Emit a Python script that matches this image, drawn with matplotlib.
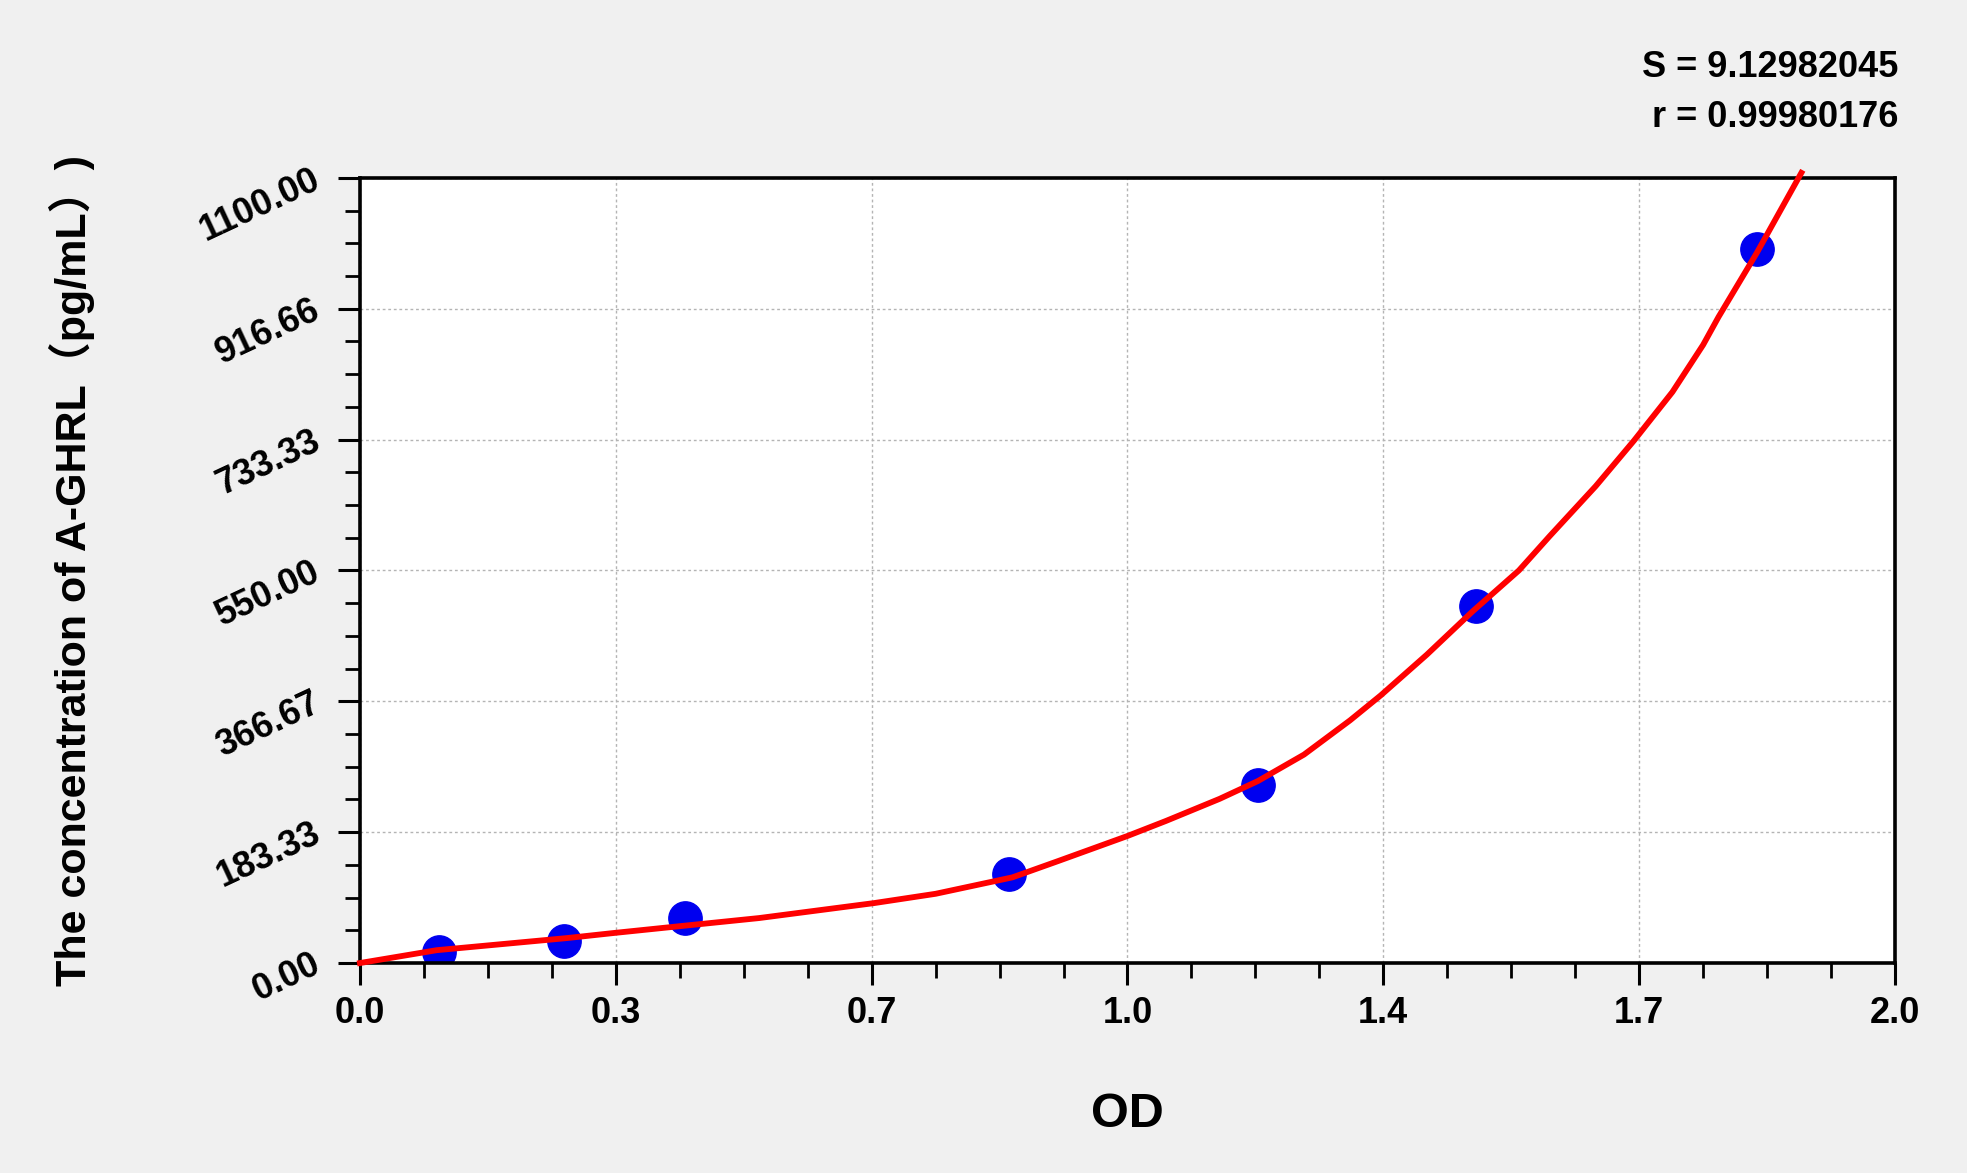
import matplotlib
matplotlib.use("Agg")
import matplotlib.pyplot as plt
from matplotlib.ticker import MultipleLocator

# standard points (OD, concentration pg/mL)
od_points = [0.103, 0.266, 0.423, 0.846, 1.170, 1.454, 1.820]
conc_points = [15.625, 31.25, 62.5, 125, 250, 500, 1000]

# fitted curve
curve_od = [0.0, 0.10, 0.27, 0.33, 0.42, 0.52, 0.67, 0.75, 0.85, 0.91, 1.00,
            1.05, 1.12, 1.17, 1.23, 1.29, 1.33, 1.39, 1.45, 1.51, 1.55, 1.61,
            1.66, 1.71, 1.75, 1.77, 1.82, 1.878]
curve_conc = [0, 18, 35, 42, 52, 63, 84, 97, 120, 143, 178,
              199, 230, 255, 292, 340, 375, 432, 493, 550, 598, 668,
              732, 800, 866, 905, 995, 1107]

x_ticks = [0, 1 / 3, 2 / 3, 1, 4 / 3, 5 / 3, 2]
x_labels = ["0.0", "0.3", "0.7", "1.0", "1.4", "1.7", "2.0"]
y_ticks = [i * 1100 / 6 for i in range(7)]
y_labels = ["0.00", "183.33", "366.67", "550.00", "733.33", "916.66", "1100.00"]

s_value = "S = 9.12982045"
r_value = "r = 0.99980176"

plt.rcParams["font.family"] = ["Liberation Sans", "Noto Sans CJK SC", "DejaVu Sans"]
plt.rcParams["font.weight"] = "bold"

fig = plt.figure(figsize=(19.67, 11.73), dpi=100, facecolor="#f0f0f0")
ax = fig.add_axes([0.183, 0.179, 0.7804, 0.6694])
ax.set_facecolor("white")

ax.plot(curve_od, curve_conc, color="#ff0000", linewidth=4.2, clip_on=False,
        solid_joinstyle="round", zorder=3)
ax.plot(od_points, conc_points, "o", color="#0000f0", markersize=24, zorder=2)

ax.set_xlim(0, 2.0)
ax.set_ylim(0, 1100)
ax.set_xticks(x_ticks)
ax.set_xticklabels(x_labels, fontsize=26, fontweight="bold")
ax.set_yticks(y_ticks)
ax.set_yticklabels(y_labels, fontsize=26, fontweight="bold", rotation=25,
                   ha="right", va="center", rotation_mode="anchor")
ax.xaxis.set_minor_locator(MultipleLocator(1 / 12))
ax.yaxis.set_minor_locator(MultipleLocator(1100 / 24))

ax.tick_params(which="major", direction="out", length=16, width=2.2, color="black")
ax.tick_params(which="minor", direction="out", length=11, width=2.0, color="black")
ax.tick_params(axis="x", which="major", pad=8)
ax.tick_params(axis="y", which="major", pad=14)

for sp in ax.spines.values():
    sp.set_linewidth(2.6)
    sp.set_color("black")

ax.grid(True, which="major", linestyle=(0, (2, 2)), color="#b4b4b4", linewidth=1.0)
ax.set_axisbelow(True)

ax.set_xlabel("OD", fontsize=35, fontweight="bold", labelpad=44)
fig.text(0.0366, 0.514, "The concentration of A-GHRL（pg/mL）)", rotation=90,
         fontsize=31, fontweight="bold", ha="center", va="center")

fig.text(0.9652, 0.934, s_value, fontsize=26, fontweight="bold", ha="right", va="baseline")
fig.text(0.9652, 0.892, r_value, fontsize=26, fontweight="bold", ha="right", va="baseline")

fig.savefig("out.png", dpi=100, facecolor=fig.get_facecolor())
